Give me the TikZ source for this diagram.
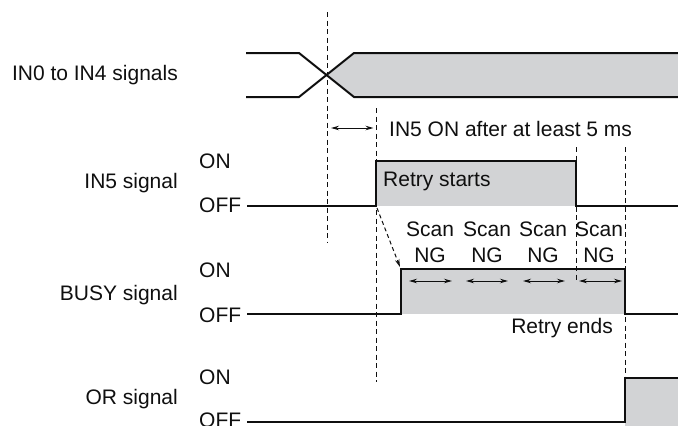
\documentclass[tikz,border=0pt]{standalone}
\usepackage{fontspec}
\setmainfont{Liberation Sans}
\usetikzlibrary{arrows.meta}
\definecolor{sigfill}{RGB}{210,211,213}
\definecolor{ink}{RGB}{15,15,15}
\begin{document}
\begin{tikzpicture}[x=1pt,y=-1pt,
  sig/.style={line width=2pt, draw=ink, line join=miter},
  shade/.style={fill=sigfill, draw=none},
  guide/.style={line width=1pt, draw=ink, dash pattern=on 5pt off 3.5pt},
  dimarr/.style={line width=1pt, draw=ink, {Stealth[length=8pt,width=4.5pt]}-{Stealth[length=8pt,width=4.5pt]}},
  linkarr/.style={line width=1pt, draw=ink, dash pattern=on 4pt off 3pt, -{Stealth[length=8pt,width=4.5pt]}},
  txt/.style={anchor=base, inner sep=0pt, text=ink, font=\fontsize{21}{25}\selectfont},
  signame/.style={txt, anchor=base east},
  lvltxt/.style={txt, anchor=base west}]
\useasboundingbox (0,0) rectangle (678,426);
\clip (0,0) rectangle (678,426);

% ---------- IN0 to IN4 ----------
\coordinate (a0) at (246,53);  \coordinate (a1) at (299,53);
\coordinate (a2) at (354,53);  \coordinate (a3) at (678,53);
\coordinate (b0) at (246,97);  \coordinate (b1) at (299,97);
\coordinate (b2) at (354,97);  \coordinate (b3) at (678,97);
\coordinate (x0) at (326.5,75);
\fill[shade] (x0) -- (a2) -- (a3) -- (b3) -- (b2) -- cycle;
\draw[sig] (a0) -- (a1) -- (b2) -- (b3);
\draw[sig] (b0) -- (b1) -- (a2) -- (a3);
\node[signame] (n0) at (178,80.5) {IN0 to IN4 signals};

% ---------- IN5 ----------
\coordinate (i0) at (247,206); \coordinate (i1) at (376,206);
\coordinate (i2) at (376,161); \coordinate (i3) at (576,161);
\coordinate (i4) at (576,206); \coordinate (i5) at (678,206);
\fill[shade] (i1) rectangle (i3);
\draw[sig] (i0) -- (i1) -- (i2) -- (i3) -- (i4) -- (i5);
\node[signame] (n5) at (178,188) {IN5 signal};
\node[lvltxt] (on5) at (199,168) {ON};
\node[lvltxt] (off5) at (199,212.5) {OFF};
\node[txt, anchor=base west] (rs) at (383,186.5) {Retry starts};

% ---------- BUSY ----------
\coordinate (u0) at (247,314); \coordinate (u1) at (401,314);
\coordinate (u2) at (401,269); \coordinate (u3) at (625,269);
\coordinate (u4) at (625,314); \coordinate (u5) at (678,314);
\fill[shade] (u1) rectangle (u3);
\draw[sig] (u0) -- (u1) -- (u2) -- (u3) -- (u4) -- (u5);
\node[signame] (nb) at (178,300) {BUSY signal};
\node[lvltxt] (onb) at (199,277) {ON};
\node[lvltxt] (offb) at (199,322) {OFF};
\node[txt, anchor=base east] (re) at (613,333.3) {Retry ends};

% ---------- OR ----------
\coordinate (r0) at (247,422); \coordinate (r1) at (625,422);
\coordinate (r2) at (625,378); \coordinate (r3) at (678,378);
\coordinate (r4) at (678,426);
\fill[shade] (r2) rectangle (r4);
\draw[sig] (r0) -- (r1) -- (r2) -- (r3);
\node[signame] (nr) at (178,404) {OR signal};
\node[lvltxt] (onr) at (199,384) {ON};
\node[lvltxt] (offr) at (199,427.5) {OFF};

% ---------- guides ----------
\coordinate (g1t) at (327,12);  \coordinate (g1b) at (327,242);
\coordinate (g2t) at (376,108); \coordinate (g2b) at (376,382);
\coordinate (g3t) at (576,147); \coordinate (g3b) at (576,281);
\coordinate (g4t) at (625,147); \coordinate (g4b) at (625,378);
\draw[guide] (g1t) -- (g1b);
\draw[guide] (g2t) -- (g2b);
\draw[guide] (g3t) -- (g3b);
\draw[guide] (g4t) -- (g4b);

% 5 ms dimension
\coordinate (d0) at (331,128); \coordinate (d1) at (373.5,128);
\draw[dimarr] (d0) -- (d1);
\node[txt, anchor=base west] (t5) at (389,136) {IN5 ON after at least 5 ms};

% retry link
\coordinate (k0) at (377,208); \coordinate (k1) at (400,267);
\draw[linkarr] (k0) -- (k1);

% scans
\foreach \i/\xa/\xb/\xc in {1/409/452/430, 2/466/508/487, 3/523/565/543, 4/579/622/599}{
  \coordinate (s\i a) at (\xa,281);
  \coordinate (s\i b) at (\xb,281);
  \draw[dimarr] (s\i a) -- (s\i b);
  \node[txt] (sc\i) at (\xc,236) {Scan};
  \node[txt] (ng\i) at (\xc,262.3) {NG};
}
\end{tikzpicture}
\end{document}
